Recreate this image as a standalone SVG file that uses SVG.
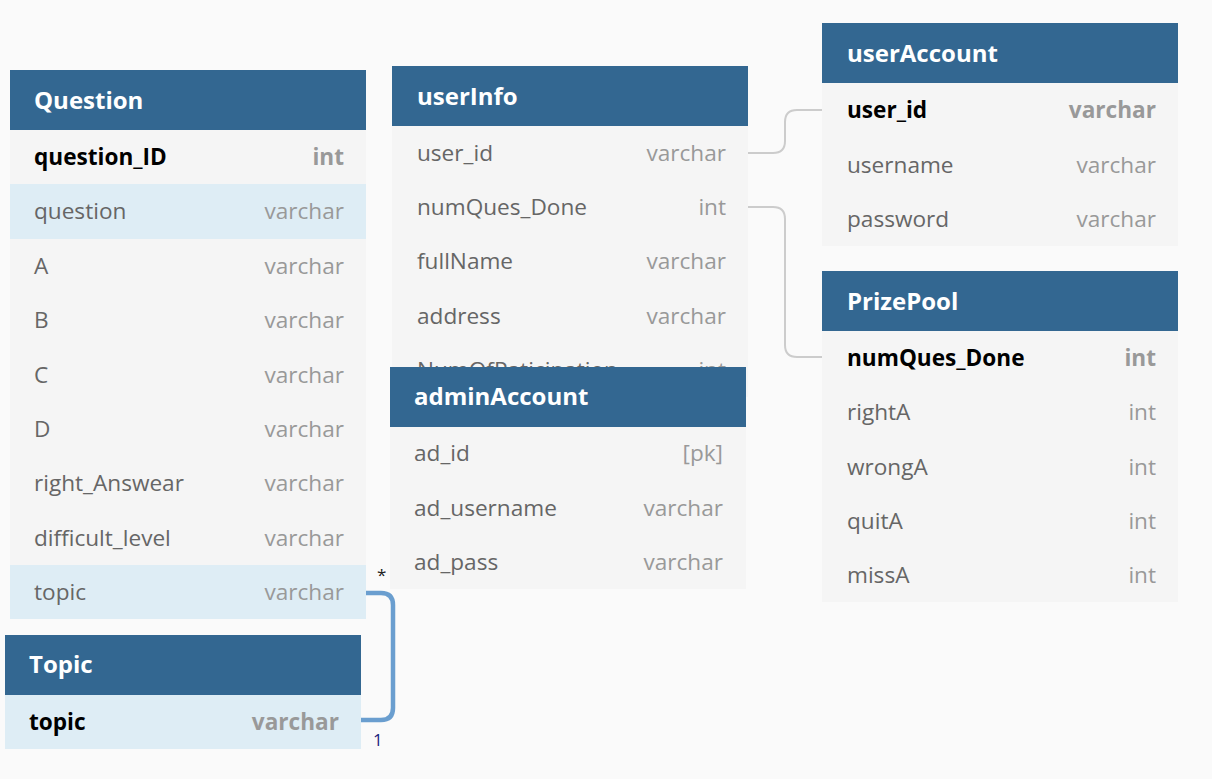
<svg xmlns="http://www.w3.org/2000/svg" width="1212" height="779" viewBox="0 0 1212 779">
<style>
.bg{fill:#fafafa}
.hd{fill:#336791}
.row{fill:#f5f5f5}
.hl{fill:#deedf5}
.ht{font-family:"Open Sans","Noto Sans",sans-serif;font-size:24px;font-weight:bold;fill:#ffffff}
.fn{font-family:"Open Sans","Noto Sans",sans-serif;font-size:22.6px;fill:#666666}
.ft{font-family:"Open Sans","Noto Sans",sans-serif;font-size:22.6px;fill:#999999;text-anchor:end}
.kn{font-family:"Open Sans","Noto Sans",sans-serif;font-size:22.6px;font-weight:bold;fill:#000000}
.kt{font-family:"Open Sans","Noto Sans",sans-serif;font-size:22.6px;font-weight:bold;fill:#999999;text-anchor:end}
.c1{fill:none;stroke:#cccccc;stroke-width:2}
.c2{fill:none;stroke:#6a9ecf;stroke-width:4.5}
.lbl{font-family:"Open Sans","Noto Sans",sans-serif;font-size:17px}
</style>
<rect class="bg" x="0" y="0" width="1212" height="779"/>

<g id="connectors">
<path class="c1" d="M748,153 H773 Q785,153 785,141 V122 Q785,110 797,110 H822"/>
<path class="c1" d="M748,207 H773 Q785,207 785,219 V345 Q785,357 797,357 H822"/>
<path class="c2" d="M366,593 H381 Q393,593 393,605 V708 Q393,720 381,720 H361"/>
<text class="lbl" x="377" y="581" fill="#222222">*</text>
<text class="lbl" x="373" y="746" fill="#1a237e">1</text>
</g>

<g id="Question">
<rect class="row" x="10" y="130" width="356" height="489"/>
<rect class="hl" x="10" y="184" width="356" height="55"/>
<rect class="hl" x="10" y="565" width="356" height="54"/>
<rect class="hd" x="10" y="70" width="356" height="60"/>
<text class="ht" x="34" y="109">Question</text>
<text class="kn" x="34" y="165">question_ID</text><text class="kt" x="344" y="165">int</text>
<text class="fn" x="34" y="219">question</text><text class="ft" x="344" y="219">varchar</text>
<text class="fn" x="34" y="274">A</text><text class="ft" x="344" y="274">varchar</text>
<text class="fn" x="34" y="328">B</text><text class="ft" x="344" y="328">varchar</text>
<text class="fn" x="34" y="383">C</text><text class="ft" x="344" y="383">varchar</text>
<text class="fn" x="34" y="437">D</text><text class="ft" x="344" y="437">varchar</text>
<text class="fn" x="34" y="491">right_Answear</text><text class="ft" x="344" y="491">varchar</text>
<text class="fn" x="34" y="546">difficult_level</text><text class="ft" x="344" y="546">varchar</text>
<text class="fn" x="34" y="600">topic</text><text class="ft" x="344" y="600">varchar</text>
</g>

<g id="Topic">
<rect class="hl" x="5" y="695" width="356" height="54"/>
<rect class="hd" x="5" y="635" width="356" height="60"/>
<text class="ht" x="29" y="673">Topic</text>
<text class="kn" x="29" y="730">topic</text><text class="kt" x="339" y="730">varchar</text>
</g>

<g id="userInfo">
<rect class="row" x="392" y="126" width="356" height="271"/>
<rect class="hd" x="392" y="66" width="356" height="60"/>
<text class="ht" x="417" y="105">userInfo</text>
<text class="fn" x="417" y="161">user_id</text><text class="ft" x="726" y="161">varchar</text>
<text class="fn" x="417" y="215">numQues_Done</text><text class="ft" x="726" y="215">int</text>
<text class="fn" x="417" y="269">fullName</text><text class="ft" x="726" y="269">varchar</text>
<text class="fn" x="417" y="324">address</text><text class="ft" x="726" y="324">varchar</text>
<text class="fn" x="417" y="378">NumOfPaticipation</text><text class="ft" x="726" y="378">int</text>
</g>

<g id="adminAccount">
<rect class="row" x="390" y="427" width="356" height="162"/>
<rect class="hd" x="390" y="367" width="356" height="60"/>
<text class="ht" x="414" y="405">adminAccount</text>
<text class="fn" x="414" y="461">ad_id</text><text class="ft" x="723" y="461">[pk]</text>
<text class="fn" x="414" y="516">ad_username</text><text class="ft" x="723" y="516">varchar</text>
<text class="fn" x="414" y="570">ad_pass</text><text class="ft" x="723" y="570">varchar</text>
</g>

<g id="userAccount">
<rect class="row" x="822" y="83" width="356" height="163"/>
<rect class="hd" x="822" y="23" width="356" height="60"/>
<text class="ht" x="847" y="62">userAccount</text>
<text class="kn" x="847" y="118">user_id</text><text class="kt" x="1156" y="118">varchar</text>
<text class="fn" x="847" y="173">username</text><text class="ft" x="1156" y="173">varchar</text>
<text class="fn" x="847" y="227">password</text><text class="ft" x="1156" y="227">varchar</text>
</g>

<g id="PrizePool">
<rect class="row" x="822" y="331" width="356" height="271"/>
<rect class="hd" x="822" y="271" width="356" height="60"/>
<text class="ht" x="847" y="310">PrizePool</text>
<text class="kn" x="847" y="366">numQues_Done</text><text class="kt" x="1156" y="366">int</text>
<text class="fn" x="847" y="420">rightA</text><text class="ft" x="1156" y="420">int</text>
<text class="fn" x="847" y="475">wrongA</text><text class="ft" x="1156" y="475">int</text>
<text class="fn" x="847" y="529">quitA</text><text class="ft" x="1156" y="529">int</text>
<text class="fn" x="847" y="583">missA</text><text class="ft" x="1156" y="583">int</text>
</g>
</svg>
